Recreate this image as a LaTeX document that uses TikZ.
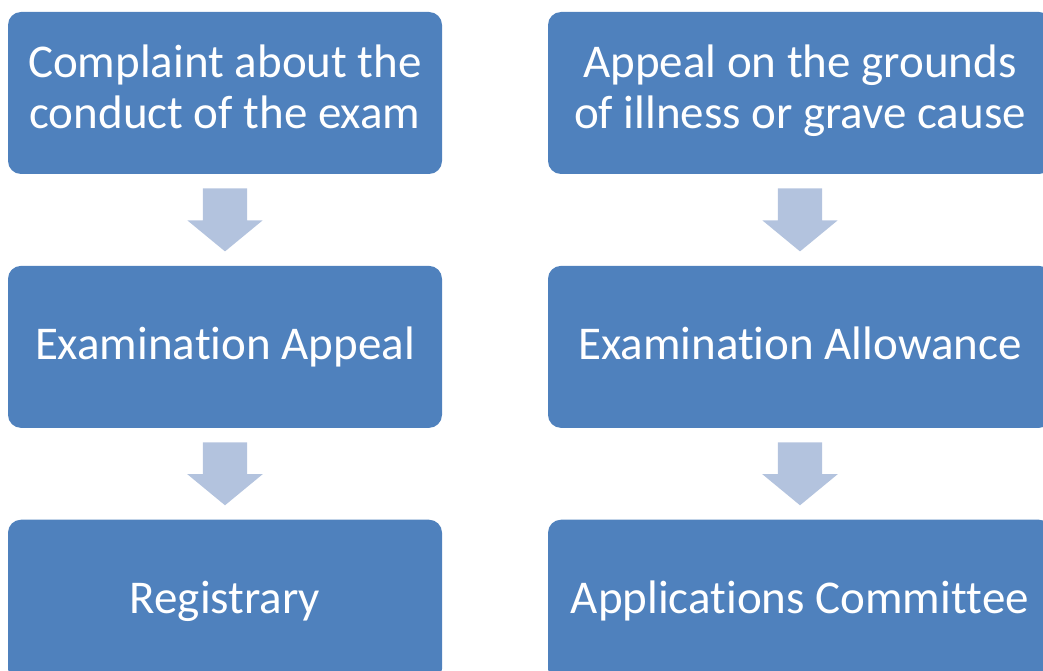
\documentclass[tikz,border=0pt]{standalone}
\usepackage{fontspec}
\setmainfont[Ligatures=NoCommon]{Carlito}
\usetikzlibrary{positioning}
\usetikzlibrary{shapes.arrows}
\definecolor{boxblue}{HTML}{4F81BD}
\definecolor{arrowblue}{HTML}{B3C3DE}
\newcommand{\stagestrut}{\rule[-13pt]{0pt}{51pt}}

\begin{document}
\begin{tikzpicture}[x=1pt,y=1pt,
    stage/.style={fill=boxblue,rounded corners=13pt,text=white,align=center,
      minimum height=162pt,inner sep=0pt,font=\fontsize{47}{51}\selectfont,
      execute at begin node=\stagestrut,execute at end node=\stagestrut},
    downarrow/.style={single arrow,fill=arrowblue,shape border rotate=270,
      minimum height=63pt,inner xsep=22pt,inner ysep=0pt,
      single arrow head extend=15.5pt,single arrow tip angle=101,anchor=tail}]
  \useasboundingbox (0,0) rectangle (1043,-671);
  % left column
  \node[stage,minimum width=434pt] (c1) at (225,-93)
    {Complaint about the\\conduct of the exam};
  \node[downarrow] (a1) at ([yshift=-14pt]c1.south) {};
  \node[stage,minimum width=434pt,below=14pt of a1.tip] (c2)
    {Examinat\kern0pt ion Appeal};
  \node[downarrow] (a2) at ([yshift=-14pt]c2.south) {};
  \node[stage,minimum width=434pt,below=14pt of a2.tip] (c3)
    {Registrary};
  % right column
  \node[stage,minimum width=504pt] (c4) at (800,-93)
    {Appeal on the grounds\\of illness or grave cause};
  \node[downarrow] (a3) at ([yshift=-14pt]c4.south) {};
  \node[stage,minimum width=504pt,below=14pt of a3.tip] (c5)
    {Examinat\kern0pt ion Allowance};
  \node[downarrow] (a4) at ([yshift=-14pt]c5.south) {};
  \node[stage,minimum width=504pt,below=14pt of a4.tip] (c6)
    {Applicat\kern0pt ions Commit\kern0pt tee};
\end{tikzpicture}
\end{document}
